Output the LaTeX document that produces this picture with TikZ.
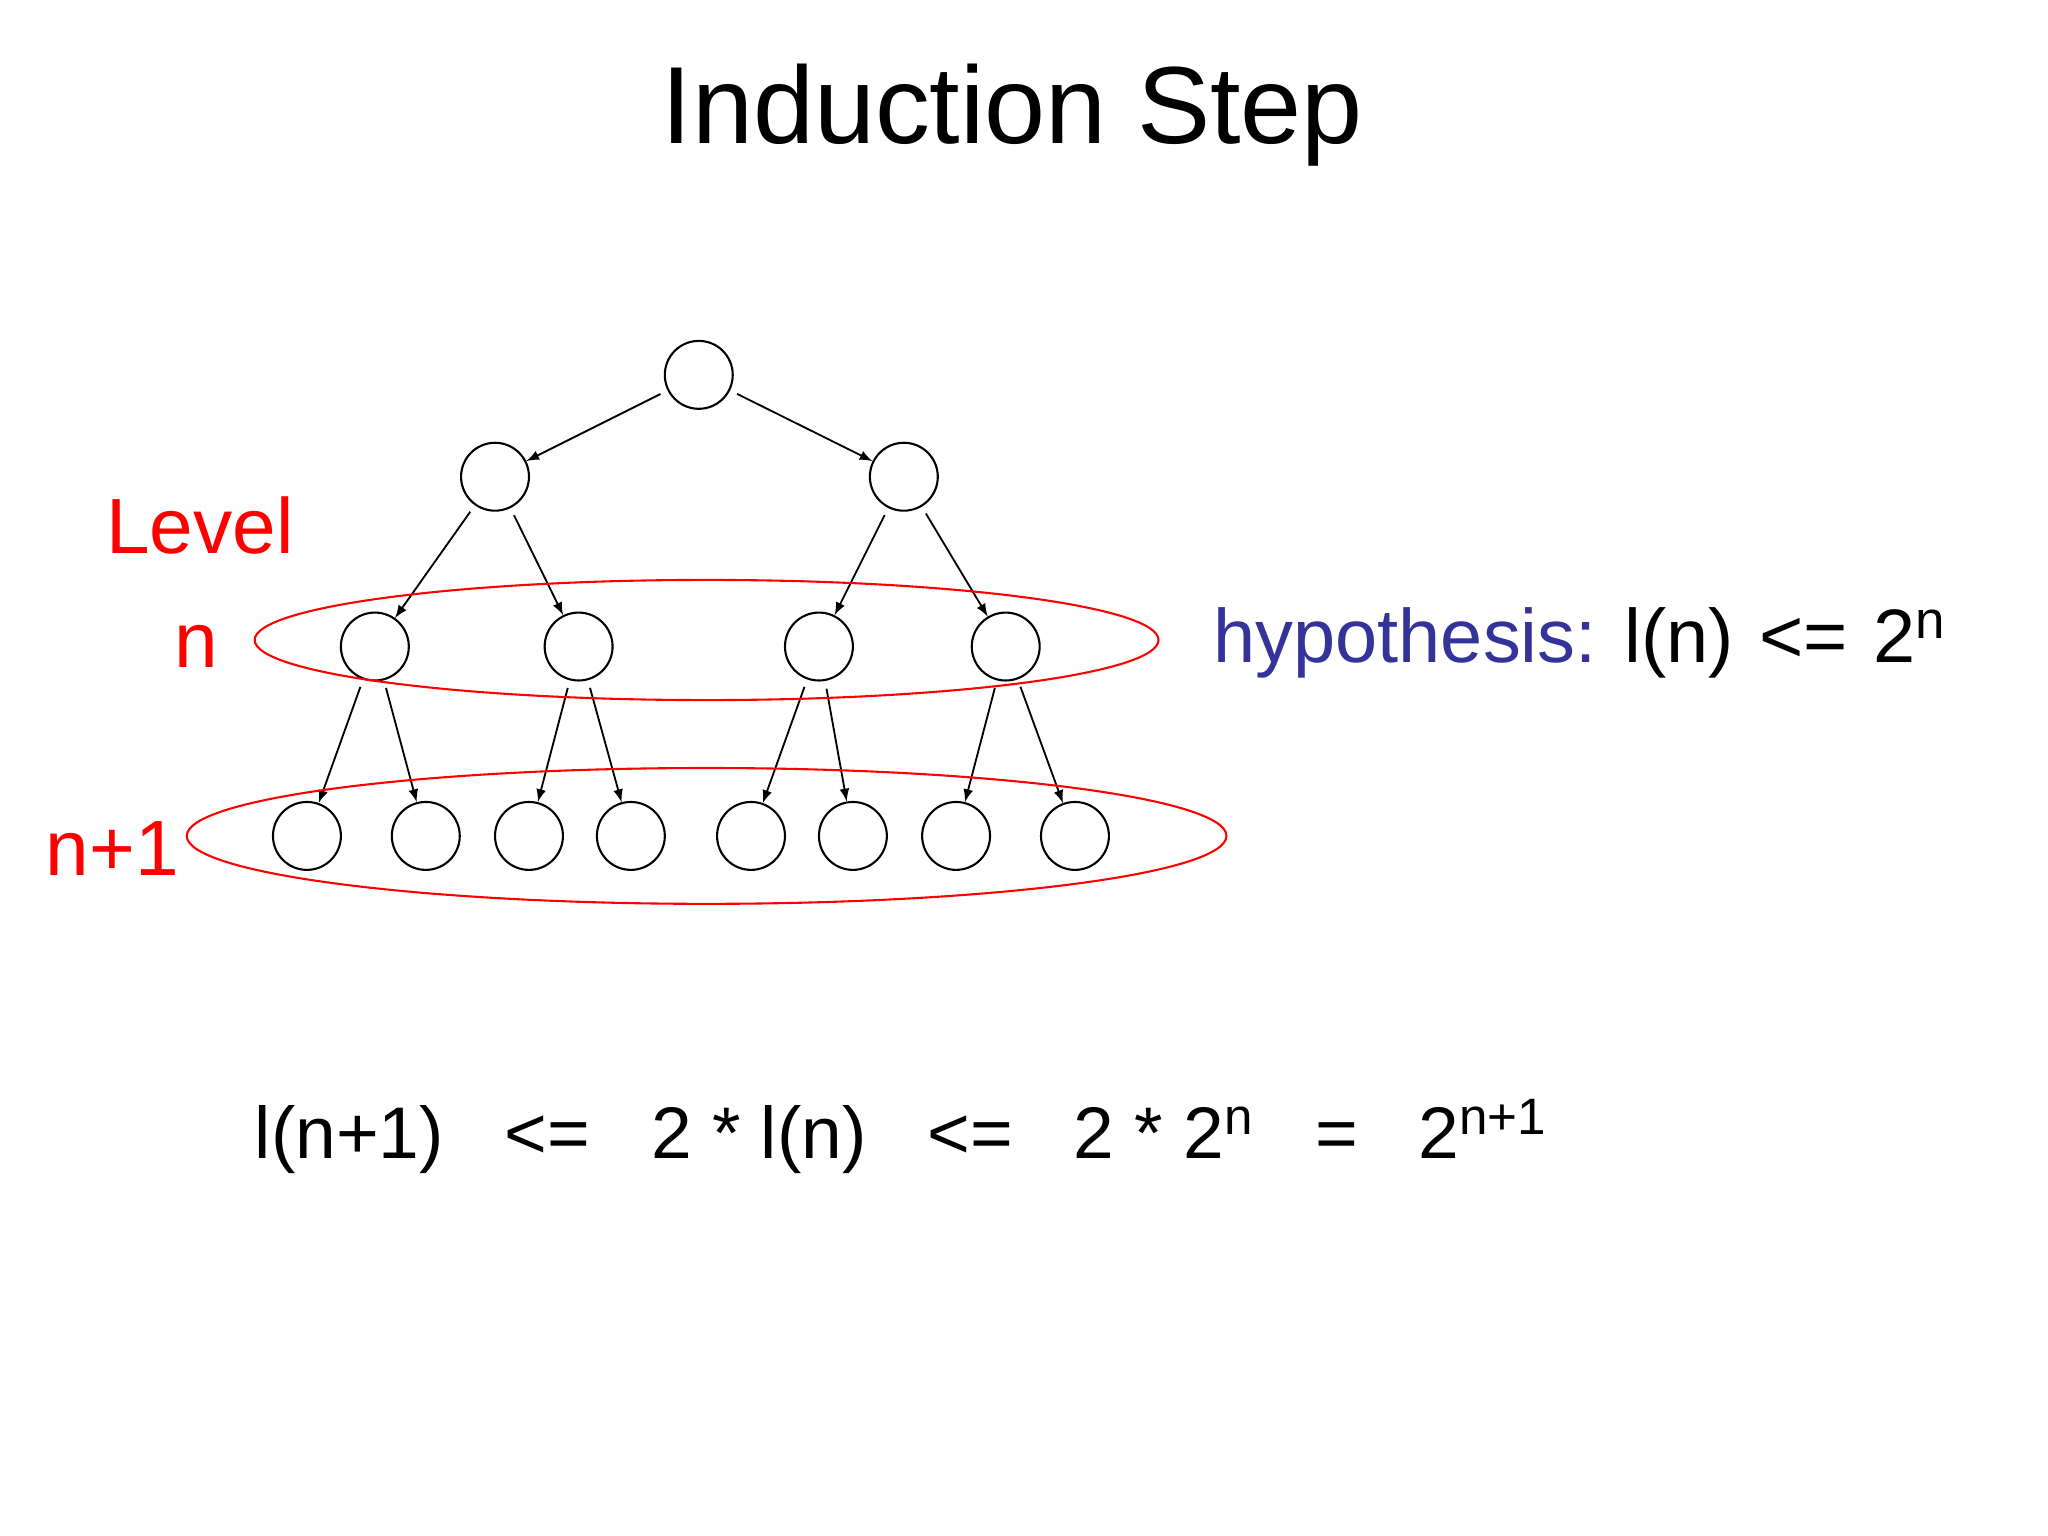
\documentclass[tikz,border=0pt]{standalone}
\usepackage{fontspec}
\setmainfont{Liberation Sans}
\begin{document}
\begin{tikzpicture}[x=0.5pt,y=-0.5pt,
  nd/.style={circle,draw,line width=0.8pt,minimum size=26pt,inner sep=0pt},
  ed/.style={-latex,line width=0.7pt,shorten <=3pt},
  lev/.style={draw=red,line width=0.8pt}]
\useasboundingbox[fill=white] (0,0) rectangle (1568,1176);
\node at (775,88) {\fontsize{42}{48}\selectfont Induction Step};
\node[nd] (r) at (535,287) {};
\node[nd] (a) at (379,365) {};
\node[nd] (b) at (692,365) {};
\foreach \n/\x in {c1/287,c2/443,c3/627,c4/770}{\node[nd] (\n) at (\x,495) {};}
\foreach \n/\x in {d1/235,d2/326,d3/405,d4/483,d5/575,d6/653,d7/732,d8/823}{\node[nd] (\n) at (\x,640) {};}
\draw[ed] (r) -- (a); \draw[ed] (r) -- (b);
\draw[ed] (a) -- (c1); \draw[ed] (a) -- (c2);
\draw[ed] (b) -- (c3); \draw[ed] (b) -- (c4);
\draw[ed] (c1) -- (d1); \draw[ed] (c1) -- (d2);
\draw[ed] (c2) -- (d3); \draw[ed] (c2) -- (d4);
\draw[ed] (c3) -- (d5); \draw[ed] (c3) -- (d6);
\draw[ed] (c4) -- (d7); \draw[ed] (c4) -- (d8);
\draw[lev] (541,490) ellipse [x radius=346, y radius=46];
\draw[lev] (541,640) ellipse [x radius=398, y radius=52];
\node[red] (lv) at (153,402) {\fontsize{30}{36}\selectfont Level};
\node[red] (ln) at (150,495) {\fontsize{30}{36}\selectfont n};
\node[red] (ln1) at (86,650) {\fontsize{30}{36}\selectfont n+1};
\node[anchor=west] (hy) at (922,492) {\fontsize{29}{34}\selectfont\textcolor[HTML]{333399}{hypothesis:} l(n)\,\,<=\,\,2\textsuperscript{n}};
\node[anchor=west] (fm) at (188,870) {\fontsize{28}{34}\selectfont l(n+1)\ \ \ <=\ \ \ 2 * l(n)\ \ \ <=\ \ \ 2 * 2\textsuperscript{n}\ \ \ =\ \ \ 2\textsuperscript{n+1}};
\end{tikzpicture}
\end{document}
